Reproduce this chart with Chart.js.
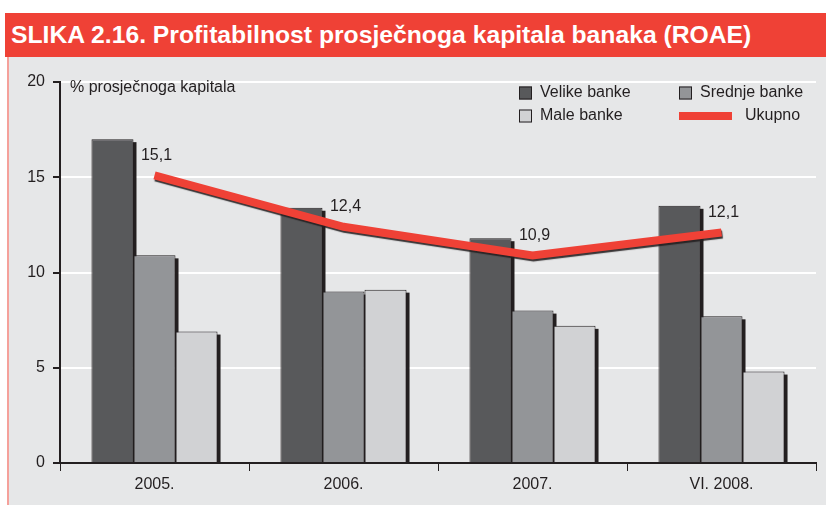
<!DOCTYPE html>
<html>
<head>
<meta charset="utf-8">
<script src="https://cdn.jsdelivr.net/npm/chart.js@4"></script>
<style>
  html, body { margin: 0; padding: 0; background: #fff; }
  body { width: 826px; height: 505px; position: relative; overflow: hidden; }
  #title {
    position: absolute; left: 5px; top: 13px; width: 821px; height: 44px;
    background: #ef4136; overflow: hidden;
  }
  #title span {
    position: absolute; left: 6px; top: 0; color: #fff;
    font: bold 23px "Liberation Sans", Arial, sans-serif;
    line-height: 44px; white-space: nowrap; transform-origin: 0 50%;
  }
  #panel {
    position: absolute; left: 7px; top: 57px; width: 819px; height: 448px;
    background: #e6e7e8; border-left: 2px solid #f5a19b; box-sizing: border-box;
  }
  #wrap { position: absolute; left: 9px; top: 57px; width: 817px; height: 448px; }
</style>
</head>
<body>
<div id="title"><span id="titleText">SLIKA 2.16. Profitabilnost prosječnoga kapitala banaka (ROAE)</span></div>
<div id="panel"></div>
<div id="wrap"><canvas id="roae"></canvas></div>
<script>
const categories = ['2005.', '2006.', '2007.', 'VI. 2008.'];
const velike = [17.0, 13.4, 11.8, 13.5];
const srednje = [10.9, 9.0, 8.0, 7.7];
const male = [6.9, 9.1, 7.2, 4.8];
const ukupno = [15.1, 12.4, 10.9, 12.1];
const yTicks = [0, 5, 10, 15, 20];

const ink = '#231f20';
const font = 'Liberation Sans, Arial, sans-serif';

// squeeze the title to look like the condensed original
const titleText = document.getElementById('titleText');
titleText.style.transform = 'scaleX(' + (740 / titleText.offsetWidth) + ')';

// shadows to the right of the bars, and under the red line
const shadowPlugin = {
    id: 'shadows',
    beforeDatasetsDraw(chart) {
        const ctx = chart.ctx;
        ctx.save();
        ctx.fillStyle = ink;
        chart.data.datasets.forEach((ds, i) => {
            const meta = chart.getDatasetMeta(i);
            if (meta.type !== 'bar') return;
            meta.data.forEach(bar => {
                const left = bar.x + bar.width / 2;
                ctx.fillRect(left - 1, bar.y + 3, 4, bar.base - bar.y - 3);
            });
        });
        ctx.restore();
    },
    beforeDatasetDraw(chart, args) {
        const ctx = chart.ctx;
        ctx.save();
        if (args.meta.type === 'line') {
            ctx.shadowColor = 'rgba(35,31,32,0.9)';
            ctx.shadowOffsetX = 1;
            ctx.shadowOffsetY = 2;
            ctx.shadowBlur = 1;
        }
    },
    afterDatasetDraw(chart) {
        chart.ctx.restore();
    }
};

// value labels, axis title and legend
const extrasPlugin = {
    id: 'extras',
    afterDraw(chart) {
        const ctx = chart.ctx;
        const area = chart.chartArea;
        ctx.save();
        ctx.fillStyle = ink;
        ctx.font = '16px ' + font;
        ctx.textBaseline = 'middle';

        const lineMeta = chart.getDatasetMeta(3);
        ctx.textAlign = 'center';
        lineMeta.data.forEach((pt, i) => {
            ctx.fillText(ukupno[i].toFixed(1).replace('.', ','), pt.x + 2, pt.y - 20);
        });

        ctx.textAlign = 'left';
        ctx.fillText('% prosječnoga kapitala', area.left + 10, area.top + 6);

        const items = [
            { label: 'Velike banke', color: '#58595b', x: 510, y: 36 },
            { label: 'Srednje banke', color: '#939598', x: 670, y: 36 },
            { label: 'Male banke', color: '#d1d2d4', x: 510, y: 59 },
        ];
        items.forEach(it => {
            ctx.fillStyle = it.color;
            ctx.fillRect(it.x, it.y - 6.5, 13, 13);
            ctx.strokeStyle = ink;
            ctx.lineWidth = 1;
            ctx.strokeRect(it.x + 0.5, it.y - 6, 12, 12);
            ctx.fillStyle = ink;
            ctx.fillText(it.label, it.x + 21, it.y);
        });
        ctx.fillStyle = '#ef4136';
        ctx.fillRect(670, 55, 53, 8);
        ctx.fillStyle = ink;
        ctx.fillText('Ukupno', 736, 59);
        ctx.restore();
    }
};

const barStyle = { borderColor: ink, borderWidth: 1, categoryPercentage: 0.667, barPercentage: 1.0, order: 0 };

new Chart(document.getElementById('roae'), {
    data: {
        labels: categories,
        datasets: [
            { type: 'bar', label: 'Velike banke', data: velike, backgroundColor: '#58595b', ...barStyle },
            { type: 'bar', label: 'Srednje banke', data: srednje, backgroundColor: '#939598', ...barStyle },
            { type: 'bar', label: 'Male banke', data: male, backgroundColor: '#d1d2d4', ...barStyle },
            {
                type: 'line', label: 'Ukupno', data: ukupno, borderColor: '#ef4136', borderWidth: 8,
                borderCapStyle: 'butt', pointRadius: 0, tension: 0, order: -1, clip: false
            }
        ]
    },
    options: {
        responsive: true,
        maintainAspectRatio: false,
        animation: false,
        layout: { padding: { top: 25, right: 10, left: 0, bottom: 0 } },
        plugins: {
            legend: { display: false },
            tooltip: { enabled: false }
        },
        scales: {
            x: {
                offset: true,
                grid: { offset: true, drawOnChartArea: false, tickLength: 8, color: ink, lineWidth: 1 },
                border: { color: ink, width: 2 },
                ticks: { color: ink, font: { size: 16, family: font }, padding: 4 },
                afterFit(scale) { scale.height = 42; }
            },
            y: {
                min: 0, max: 20,
                afterBuildTicks(scale) { scale.ticks = yTicks.map(v => ({ value: v })); },
                grid: { color: '#ffffff', lineWidth: 2, tickLength: 7, tickColor: ink, drawTicks: true },
                border: { color: ink, width: 2 },
                ticks: { color: ink, font: { size: 16, family: font }, padding: 8 },
                afterFit(scale) { scale.width = 51; }
            }
        }
    },
    plugins: [shadowPlugin, extrasPlugin]
});
</script>
</body>
</html>
